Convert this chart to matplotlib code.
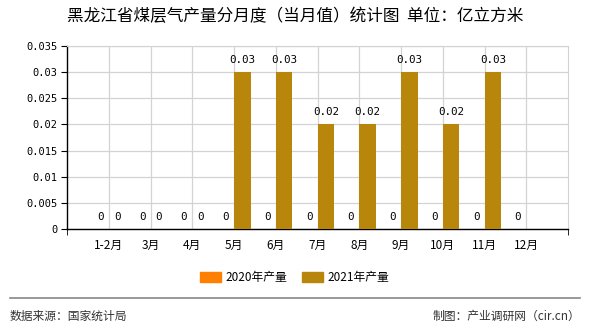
import matplotlib
matplotlib.use("Agg")
import matplotlib.pyplot as plt
import numpy as np
from matplotlib.patches import Rectangle

plt.rcParams['font.family'] = ['Noto Sans CJK SC', 'DejaVu Sans']

categories = ['1-2月', '3月', '4月', '5月', '6月', '7月', '8月', '9月', '10月', '11月', '12月']
v2020 = [0, 0, 0, 0, 0, 0, 0, 0, 0, 0, 0]
v2021 = [0, 0, 0, 0.03, 0.03, 0.02, 0.02, 0.03, 0.02, 0.03, None]
yticks = [0, 0.005, 0.01, 0.015, 0.02, 0.025, 0.03, 0.035]
ytick_labels = ['0', '0.005', '0.01', '0.015', '0.02', '0.025', '0.03', '0.035']

c2020 = '#ff8000'
c2021 = '#b8860b'
num_font = ['DejaVu Sans Mono', 'Noto Sans CJK SC']

fig = plt.figure(figsize=(5.9, 3.3), dpi=100)
ax = fig.add_axes([67 / 590, 1 - 229 / 330, 501 / 590, 183 / 330])

x = np.arange(1, len(categories) + 1)
w = 0.4
y21 = np.array([np.nan if v is None else v for v in v2021], dtype=float)
ax.bar(x - w / 2, v2020, width=w, color=c2020, zorder=3)
ax.bar(x + w / 2, np.nan_to_num(y21), width=w, color=c2021, zorder=3)

for xi, v in zip(x - w / 2, v2020):
    ax.annotate(f"{v:g}", (xi, v), xytext=(0, 5), textcoords='offset points',
                ha='center', va='bottom', fontsize=7.8, family=num_font)
for xi, v in zip(x + w / 2, y21):
    if np.isnan(v):
        continue
    ax.annotate(f"{v:g}", (xi, v), xytext=(0, 5), textcoords='offset points',
                ha='center', va='bottom', fontsize=7.8, family=num_font)

ax.set_xlim(0, 12)
ax.set_ylim(0, 0.035)
ax.set_xticks(x)
ax.set_xticklabels(categories, fontsize=8.5)
ax.set_xticks([0, 12], minor=True)
ax.tick_params(axis='x', which='major', length=0, pad=7)
ax.tick_params(axis='x', which='minor', length=4, color='black')
ax.set_yticks(yticks)
ax.set_yticklabels(ytick_labels, fontsize=7.5, family=num_font)
ax.tick_params(axis='y', length=4, pad=3, color='black')

ax.grid(True, which='major', color='#d3d3d3', linewidth=0.9, zorder=0)
ax.set_axisbelow(True)
for side in ('top', 'right'):
    ax.spines[side].set_color('#d3d3d3')
for side in ('left', 'bottom'):
    ax.spines[side].set_color('black')
    ax.spines[side].set_linewidth(1.0)

fig.text(0.5, 1 - 17 / 330, '黑龙江省煤层气产量分月度（当月值）统计图  单位：亿立方米',
         ha='center', va='center', fontsize=12)

# legend
for px, col, label in [(200, c2020, '2020年产量'), (302, c2021, '2021年产量')]:
    fig.patches.append(Rectangle((px / 590, 1 - 282 / 330), 21 / 590, 10 / 330,
                                 transform=fig.transFigure, color=col))
    fig.text((px + 25) / 590, 1 - 277 / 330, label, ha='left', va='center', fontsize=8.5)

fig.add_artist(plt.Line2D([10 / 590, 580 / 590], [1 - 298 / 330] * 2,
                          transform=fig.transFigure, color='#888888', linewidth=1.2))
fig.text(10 / 590, 1 - 316 / 330, '数据来源：国家统计局', ha='left', va='center',
         fontsize=8.5, color='#333333')
fig.text(580 / 590, 1 - 316 / 330, '制图：产业调研网（cir.cn）', ha='right', va='center',
         fontsize=8.5, color='#333333')

fig.savefig('out.png', dpi=100)
